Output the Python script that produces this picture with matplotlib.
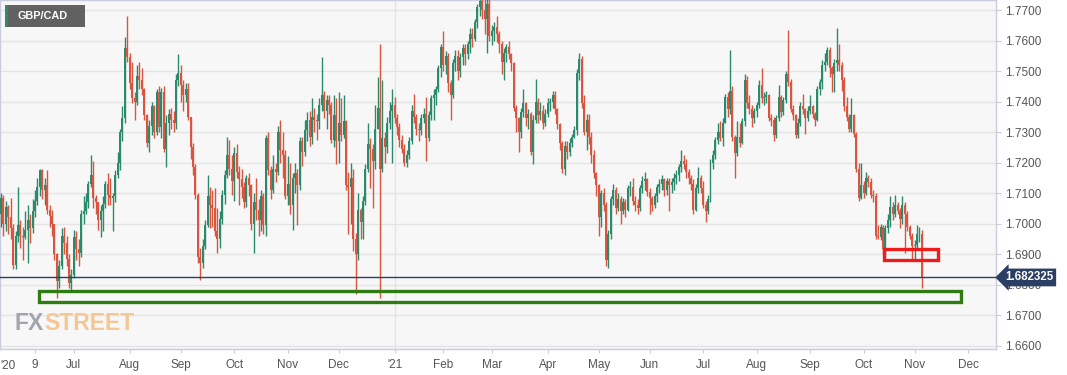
import numpy as np
import pandas as pd
import matplotlib
matplotlib.use("Agg")
import matplotlib.pyplot as plt
from matplotlib.patches import Rectangle
import matplotlib.transforms as mtransforms

# ---------------- data (daily GBP/CAD) ----------------
symbol = "GBP/CAD"
start_date = "2020-05-20"
skip_days = ["2021-01-01", "2021-04-02"]
first_open = 1.7030

closes = [
    1.7085, 1.7000, 1.7055, 1.7020, 1.6985, 1.6865, 1.6960, 1.6995, 1.6960, 1.6955,
    1.6980, 1.7010, 1.6985, 1.7040, 1.7075, 1.7120, 1.7175, 1.7110, 1.7125, 1.7045,
    1.7025, 1.7000, 1.6900, 1.6810, 1.6860, 1.6960, 1.6935, 1.6885, 1.6805, 1.6830,
    1.6955, 1.6915, 1.6905, 1.7030, 1.7040, 1.7070, 1.7130, 1.7160, 1.7085, 1.7070,
    1.7010, 1.7040, 1.7065, 1.7130, 1.7095, 1.7085, 1.7090, 1.7160, 1.7200, 1.7300,
    1.7345, 1.7575, 1.7545, 1.7460, 1.7410, 1.7400, 1.7485, 1.7470, 1.7440, 1.7355,
    1.7265, 1.7320, 1.7385, 1.7300, 1.7430, 1.7315, 1.7430, 1.7245, 1.7330, 1.7360,
    1.7340, 1.7330, 1.7470, 1.7495, 1.7455, 1.7420, 1.7440, 1.7350, 1.7250, 1.7185,
    1.7095, 1.6890, 1.6870, 1.6925, 1.6995, 1.7090, 1.7060, 1.7050, 1.6975, 1.6950,
    1.7015, 1.7095, 1.7160, 1.7225, 1.7180, 1.7140, 1.7230, 1.7170, 1.7145, 1.7120,
    1.7070, 1.7150, 1.7125, 1.7000, 1.7070, 1.7045, 1.7010, 1.7090, 1.6995, 1.7280,
    1.7175, 1.7110, 1.7180, 1.7170, 1.7300, 1.7240, 1.7225, 1.7090, 1.7130, 1.7060,
    1.7150, 1.7165, 1.7125, 1.7270, 1.7235, 1.7305, 1.7340, 1.7285, 1.7350, 1.7340,
    1.7335, 1.7390, 1.7420, 1.7370, 1.7405, 1.7390, 1.7275, 1.7355, 1.7270, 1.7330,
    1.7290, 1.7335, 1.7125, 1.7120, 1.7150, 1.6950, 1.6900, 1.7045, 1.7005, 1.7075,
    1.7180, 1.7260, 1.7245, 1.7205, 1.7310, 1.7380, 1.7180, 1.7280, 1.7250, 1.7330,
    1.7370, 1.7390, 1.7345, 1.7315, 1.7275, 1.7245, 1.7200, 1.7225, 1.7270, 1.7370,
    1.7350, 1.7310, 1.7305, 1.7345, 1.7360, 1.7280, 1.7355, 1.7410, 1.7420, 1.7440,
    1.7510, 1.7580, 1.7520, 1.7550, 1.7460, 1.7420, 1.7525, 1.7550, 1.7500, 1.7545,
    1.7575, 1.7555, 1.7590, 1.7620, 1.7605, 1.7660, 1.7710, 1.7730, 1.7700, 1.7670,
    1.7720, 1.7615, 1.7630, 1.7645, 1.7620, 1.7590, 1.7530, 1.7560, 1.7580, 1.7555,
    1.7525, 1.7380, 1.7345, 1.7300, 1.7365, 1.7395, 1.7345, 1.7360, 1.7235, 1.7340,
    1.7400, 1.7355, 1.7370, 1.7330, 1.7360, 1.7395, 1.7400, 1.7420, 1.7375, 1.7325,
    1.7265, 1.7180, 1.7255, 1.7235, 1.7265, 1.7285, 1.7305, 1.7495, 1.7540, 1.7395,
    1.7300, 1.7340, 1.7285, 1.7225, 1.7165, 1.7125, 1.7020, 1.7100, 1.7060, 1.6880,
    1.6965, 1.7080, 1.7110, 1.7050, 1.7080, 1.7040, 1.7070, 1.7045, 1.7115, 1.7120,
    1.7075, 1.7060, 1.7050, 1.7115, 1.7140, 1.7145, 1.7105, 1.7085, 1.7060, 1.7090,
    1.7120, 1.7130, 1.7145, 1.7110, 1.7140, 1.7125, 1.7135, 1.7150, 1.7160, 1.7185,
    1.7205, 1.7195, 1.7170, 1.7150, 1.7130, 1.7045, 1.7115, 1.7150, 1.7115, 1.7060,
    1.7040, 1.7080, 1.7200, 1.7225, 1.7275, 1.7300, 1.7280, 1.7330, 1.7415, 1.7375,
    1.7435, 1.7285, 1.7230, 1.7285, 1.7265, 1.7335, 1.7470, 1.7395, 1.7375, 1.7345,
    1.7370, 1.7390, 1.7455, 1.7410, 1.7415, 1.7420, 1.7345, 1.7340, 1.7290, 1.7345,
    1.7415, 1.7365, 1.7405, 1.7490, 1.7465, 1.7375, 1.7355, 1.7290, 1.7330, 1.7385,
    1.7375, 1.7345, 1.7370, 1.7385, 1.7360, 1.7340, 1.7440, 1.7465, 1.7520, 1.7530,
    1.7570, 1.7510, 1.7490, 1.7525, 1.7535, 1.7520, 1.7470, 1.7385, 1.7350, 1.7310,
    1.7355, 1.7295, 1.7180, 1.7085, 1.7125, 1.7100, 1.7150, 1.7135, 1.7095, 1.7090,
    1.6960, 1.6955, 1.6990, 1.6915, 1.6985, 1.7010, 1.7055, 1.7030, 1.7060, 1.7040,
    1.7015, 1.7060, 1.7030, 1.6990, 1.6960, 1.6925, 1.6930, 1.6965, 1.6965, 1.682325,
]

highs = [
    1.7100, 1.7095, 1.7075, 1.7060, 1.7085, 1.7000, 1.6975, 1.7120, 1.7010, 1.6990,
    1.7040, 1.7060, 1.7030, 1.7080, 1.7110, 1.7150, 1.7180, 1.7180, 1.7150, 1.7175,
    1.7060, 1.7045, 1.7000, 1.6905, 1.6880, 1.6985, 1.6990, 1.6960, 1.6900, 1.6850,
    1.6980, 1.6975, 1.6950, 1.7045, 1.7090, 1.7100, 1.7140, 1.7225, 1.7205, 1.7095,
    1.7070, 1.7060, 1.7090, 1.7140, 1.7165, 1.7150, 1.7100, 1.7175, 1.7235, 1.7310,
    1.7385, 1.7610, 1.7680, 1.7560, 1.7530, 1.7430, 1.7520, 1.7530, 1.7510, 1.7445,
    1.7360, 1.7340, 1.7400, 1.7390, 1.7440, 1.7450, 1.7445, 1.7450, 1.7355, 1.7375,
    1.7380, 1.7370, 1.7490, 1.7555, 1.7520, 1.7470, 1.7460, 1.7460, 1.7350, 1.7265,
    1.7195, 1.7100, 1.6920, 1.6950, 1.7010, 1.7160, 1.7120, 1.7110, 1.7115, 1.7050,
    1.7040, 1.7110, 1.7175, 1.7285, 1.7275, 1.7225, 1.7250, 1.7260, 1.7190, 1.7180,
    1.7135, 1.7160, 1.7165, 1.7130, 1.7100, 1.7150, 1.7080, 1.7110, 1.7100, 1.7290,
    1.7300, 1.7190, 1.7225, 1.7200, 1.7320, 1.7340, 1.7300, 1.7240, 1.7220, 1.7200,
    1.7165, 1.7200, 1.7180, 1.7285, 1.7285, 1.7340, 1.7365, 1.7370, 1.7410, 1.7380,
    1.7360, 1.7410, 1.7545, 1.7435, 1.7420, 1.7420, 1.7400, 1.7420, 1.7410, 1.7430,
    1.7410, 1.7420, 1.7340, 1.7170, 1.7200, 1.7180, 1.6970, 1.7100, 1.7050, 1.7090,
    1.7195, 1.7330, 1.7280, 1.7260, 1.7390, 1.7480, 1.7590, 1.7470, 1.7300, 1.7350,
    1.7400, 1.7440, 1.7415, 1.7360, 1.7330, 1.7290, 1.7260, 1.7240, 1.7285, 1.7390,
    1.7425, 1.7360, 1.7330, 1.7360, 1.7380, 1.7415, 1.7370, 1.7420, 1.7440, 1.7450,
    1.7520, 1.7590, 1.7630, 1.7565, 1.7560, 1.7470, 1.7540, 1.7570, 1.7570, 1.7560,
    1.7590, 1.7590, 1.7600, 1.7640, 1.7640, 1.7670, 1.7720, 1.7760, 1.7750, 1.7740,
    1.7745, 1.7745, 1.7650, 1.7660, 1.7680, 1.7630, 1.7600, 1.7575, 1.7590, 1.7600,
    1.7560, 1.7530, 1.7390, 1.7350, 1.7380, 1.7440, 1.7400, 1.7375, 1.7365, 1.7355,
    1.7475, 1.7410, 1.7400, 1.7390, 1.7375, 1.7410, 1.7410, 1.7435, 1.7435, 1.7380,
    1.7330, 1.7270, 1.7270, 1.7270, 1.7280, 1.7295, 1.7320, 1.7505, 1.7560, 1.7550,
    1.7420, 1.7360, 1.7360, 1.7300, 1.7240, 1.7170, 1.7130, 1.7110, 1.7115, 1.7070,
    1.6980, 1.7090, 1.7130, 1.7120, 1.7100, 1.7090, 1.7085, 1.7080, 1.7125, 1.7140,
    1.7150, 1.7090, 1.7080, 1.7125, 1.7155, 1.7170, 1.7150, 1.7115, 1.7090, 1.7100,
    1.7130, 1.7145, 1.7160, 1.7150, 1.7150, 1.7150, 1.7150, 1.7165, 1.7175, 1.7195,
    1.7240, 1.7225, 1.7210, 1.7180, 1.7160, 1.7145, 1.7130, 1.7185, 1.7160, 1.7140,
    1.7075, 1.7095, 1.7210, 1.7240, 1.7285, 1.7330, 1.7335, 1.7345, 1.7425, 1.7430,
    1.7570, 1.7450, 1.7290, 1.7335, 1.7330, 1.7345, 1.7490, 1.7485, 1.7420, 1.7390,
    1.7380, 1.7400, 1.7470, 1.7510, 1.7430, 1.7435, 1.7425, 1.7360, 1.7350, 1.7355,
    1.7455, 1.7420, 1.7415, 1.7500, 1.7635, 1.7475, 1.7390, 1.7360, 1.7345, 1.7400,
    1.7425, 1.7380, 1.7385, 1.7420, 1.7390, 1.7365, 1.7450, 1.7475, 1.7535, 1.7560,
    1.7580, 1.7580, 1.7515, 1.7540, 1.7640, 1.7590, 1.7530, 1.7480, 1.7415, 1.7360,
    1.7410, 1.7360, 1.7300, 1.7200, 1.7200, 1.7140, 1.7170, 1.7160, 1.7150, 1.7110,
    1.7100, 1.6995, 1.7000, 1.6995, 1.6995, 1.7030, 1.7090, 1.7070, 1.7095, 1.7070,
    1.7050, 1.7090, 1.7070, 1.7040, 1.6995, 1.6970, 1.6945, 1.6995, 1.6990, 1.6980,
]

lows = [
    1.6990, 1.6960, 1.6975, 1.6965, 1.6950, 1.6850, 1.6850, 1.6940, 1.6920, 1.6880,
    1.6950, 1.6870, 1.6935, 1.6970, 1.7020, 1.7060, 1.7090, 1.7080, 1.7060, 1.7030,
    1.6990, 1.6960, 1.6880, 1.6755, 1.6790, 1.6850, 1.6900, 1.6860, 1.6790, 1.6775,
    1.6820, 1.6880, 1.6860, 1.6890, 1.7000, 1.7030, 1.7050, 1.7120, 1.7050, 1.7030,
    1.6980, 1.6955, 1.6975, 1.7050, 1.7060, 1.7060, 1.6975, 1.7070, 1.7150, 1.7175,
    1.7270, 1.7330, 1.7530, 1.7440, 1.7395, 1.7340, 1.7390, 1.7440, 1.7420, 1.7340,
    1.7250, 1.7235, 1.7290, 1.7280, 1.7290, 1.7300, 1.7280, 1.7235, 1.7185, 1.7290,
    1.7310, 1.7300, 1.7310, 1.7450, 1.7400, 1.7370, 1.7400, 1.7340, 1.7210, 1.7160,
    1.7080, 1.6870, 1.6815, 1.6855, 1.6915, 1.6990, 1.6985, 1.6990, 1.6960, 1.6905,
    1.6920, 1.7000, 1.7065, 1.7150, 1.7160, 1.7095, 1.7075, 1.7150, 1.7060, 1.7085,
    1.7050, 1.7055, 1.7090, 1.6980, 1.6905, 1.7010, 1.6960, 1.6975, 1.6965, 1.6960,
    1.7160, 1.7080, 1.7100, 1.7135, 1.7160, 1.7200, 1.7150, 1.7080, 1.7060, 1.7030,
    1.6980, 1.7100, 1.6995, 1.7110, 1.7190, 1.7220, 1.7270, 1.7255, 1.7260, 1.7300,
    1.7275, 1.7310, 1.7370, 1.7345, 1.7310, 1.7360, 1.7265, 1.7250, 1.7195, 1.7200,
    1.7270, 1.7280, 1.7110, 1.6965, 1.7000, 1.6910, 1.6770, 1.6880, 1.6950, 1.6950,
    1.7060, 1.7170, 1.7115, 1.7050, 1.7180, 1.7340, 1.6755, 1.7170, 1.7200, 1.7230,
    1.7310, 1.7200, 1.7330, 1.7290, 1.7250, 1.7230, 1.7190, 1.7185, 1.7210, 1.7260,
    1.7330, 1.7290, 1.7270, 1.7290, 1.7330, 1.7205, 1.7270, 1.7340, 1.7340, 1.7390,
    1.7430, 1.7480, 1.7500, 1.7490, 1.7430, 1.7340, 1.7410, 1.7500, 1.7470, 1.7480,
    1.7520, 1.7520, 1.7540, 1.7560, 1.7580, 1.7600, 1.7640, 1.7680, 1.7670, 1.7620,
    1.7560, 1.7600, 1.7585, 1.7600, 1.7595, 1.7560, 1.7490, 1.7470, 1.7530, 1.7540,
    1.7500, 1.7370, 1.7300, 1.7235, 1.7280, 1.7350, 1.7320, 1.7310, 1.7225, 1.7195,
    1.7330, 1.7330, 1.7340, 1.7310, 1.7320, 1.7350, 1.7370, 1.7380, 1.7360, 1.7310,
    1.7240, 1.7165, 1.7160, 1.7210, 1.7220, 1.7250, 1.7280, 1.7290, 1.7470, 1.7380,
    1.7290, 1.7240, 1.7260, 1.7200, 1.7150, 1.7090, 1.6960, 1.6990, 1.7040, 1.6862,
    1.6855, 1.6950, 1.7060, 1.7030, 1.7040, 1.7000, 1.7030, 1.7020, 1.7040, 1.7090,
    1.7060, 1.7040, 1.7030, 1.7040, 1.7100, 1.7110, 1.7090, 1.7030, 1.7040, 1.7050,
    1.7070, 1.7100, 1.7110, 1.7090, 1.7095, 1.7040, 1.7100, 1.7110, 1.7130, 1.7140,
    1.7170, 1.7180, 1.7150, 1.7130, 1.7110, 1.7030, 1.7040, 1.7100, 1.7100, 1.7050,
    1.7005, 1.7030, 1.7070, 1.7180, 1.7210, 1.7260, 1.7270, 1.7255, 1.7330, 1.7350,
    1.7360, 1.7270, 1.7150, 1.7220, 1.7250, 1.7260, 1.7320, 1.7380, 1.7360, 1.7315,
    1.7330, 1.7350, 1.7380, 1.7395, 1.7390, 1.7395, 1.7335, 1.7320, 1.7270, 1.7280,
    1.7335, 1.7350, 1.7355, 1.7395, 1.7450, 1.7365, 1.7340, 1.7280, 1.7280, 1.7320,
    1.7360, 1.7295, 1.7335, 1.7360, 1.7345, 1.7320, 1.7335, 1.7420, 1.7440, 1.7500,
    1.7520, 1.7480, 1.7430, 1.7430, 1.7500, 1.7500, 1.7435, 1.7370, 1.7335, 1.7300,
    1.7300, 1.7285, 1.7170, 1.7075, 1.7080, 1.7085, 1.7095, 1.7120, 1.7085, 1.7070,
    1.6950, 1.6950, 1.6945, 1.6900, 1.6890, 1.6970, 1.6990, 1.7010, 1.7020, 1.7030,
    1.6985, 1.7000, 1.6905, 1.6975, 1.6950, 1.6885, 1.6885, 1.6920, 1.6940, 1.6790,
]

# annotation zones (price ranges and dates)
support_zone = (1.6744, 1.6780)
support_dates = ("2020-06-10", "2021-11-26")
recent_zone = (1.6881, 1.6915)
recent_dates = ("2021-10-13", "2021-11-15")

price_ticks = [1.66, 1.67, 1.68, 1.69, 1.70, 1.71, 1.72, 1.73, 1.74, 1.75, 1.76, 1.77]

# ---------------- styling ----------------
GREEN = "#2b8a6c"
RED = "#d9553f"
GRID = "#e4e4e4"
AXC = "#c9cddd"
NAVY = "#2b3e64"
FONT = ["Liberation Sans", "DejaVu Sans"]
plt.rcParams["font.family"] = FONT

W, H = 1067, 375
fig = plt.figure(figsize=(W / 100, H / 100), dpi=100)
fig.patch.set_facecolor("white")
ax = fig.add_axes([0.0, 26 / H, 996 / W, 349 / H])
ax.set_facecolor("#f7f7f7")

# trading-day calendar
all_days = pd.bdate_range(start_date, "2021-12-31")
all_days = all_days[~all_days.isin(pd.to_datetime(skip_days))]
day_pos = {d: k for k, d in enumerate(all_days)}

c = np.array(closes)
o = np.concatenate([[first_open], c[:-1]])
h = np.maximum(np.array(highs), np.maximum(o, c))
l = np.minimum(np.array(lows), np.minimum(o, c))
x = np.arange(len(c))
up = c >= o
cols = np.where(up, GREEN, RED)

ax.vlines(x, l, h, colors=cols, lw=1.0, zorder=3)
body_bottom = np.minimum(o, c)
body_h = np.maximum(np.abs(c - o), 0.00015)
ax.bar(x, body_h, bottom=body_bottom, width=0.82, color=cols, linewidth=0, zorder=4)

xmin, xmax = -0.41, 409.5
ymin, ymax = 1.65887, 1.77328
ax.set_xlim(xmin, xmax)
ax.set_ylim(ymin, ymax)

# grid
for p in price_ticks:
    ax.axhline(p, color=GRID, lw=1.0, zorder=1)

# month ticks
tick_pos, tick_lab = [], []
prev = None
for k, d in enumerate(all_days):
    key = (d.year, d.month)
    if key != prev:
        prev = key
        if k == 0 or (d.year == 2020 and d.month == 6):
            continue
        if k > xmax:
            continue
        tick_pos.append(k)
        tick_lab.append("'21" if (d.month == 1) else d.strftime("%b"))
jun9 = day_pos[pd.Timestamp("2020-06-09")]
tick_pos = [jun9] + tick_pos
tick_lab = ["9"] + tick_lab
ax.set_xticks(tick_pos)
ax.set_xticklabels(tick_lab)
jan_pos = day_pos[[d for d in all_days if d.year == 2021][0]]
ax.axvline(jan_pos, color=GRID, lw=1.0, zorder=1)

ax.annotate("'20", xy=(0, 0), xycoords="axes fraction", xytext=(0, -7.8),
            textcoords="offset points", ha="left", va="top", fontsize=8.5, color="#555555")

ax.yaxis.tick_right()
ax.set_yticks(price_ticks)
ax.set_yticklabels([f"{p:.4f}" for p in price_ticks])
ax.tick_params(axis="y", length=3.5, width=0.8, color=AXC, labelcolor="#555555",
               labelsize=8.5, pad=3)
ax.tick_params(axis="x", length=3, width=0.8, color=AXC, labelcolor="#555555",
               labelsize=8.5, pad=4.5)
for s in ax.spines.values():
    s.set_color(AXC)
    s.set_linewidth(1.0)

# zones
s0 = day_pos[pd.Timestamp(support_dates[0])] + 0.6
s1 = day_pos[pd.Timestamp(support_dates[1])]
ax.add_patch(Rectangle((s0, support_zone[0]), s1 - s0, support_zone[1] - support_zone[0],
                       fill=False, ec="#2f7d12", lw=2.4, zorder=6))
r0 = day_pos[pd.Timestamp(recent_dates[0])] + 0.2
r1 = day_pos[pd.Timestamp(recent_dates[1])] - 0.2
ax.add_patch(Rectangle((r0, recent_zone[0]), r1 - r0, recent_zone[1] - recent_zone[0],
                       fill=False, ec="#ee1b1b", lw=2.4, zorder=6))

# last price line and label
last = closes[-1]
ax.axhline(last, color=NAVY, lw=1.0, zorder=5)
trans = mtransforms.blended_transform_factory(ax.transAxes, ax.transData)
ax.text(1.0 + 9 / 996, last, f"{last:.6f}", transform=trans, ha="left", va="center",
        color="white", fontsize=8.3, fontweight="bold", clip_on=False, zorder=10,
        bbox=dict(boxstyle="larrow,pad=0.25", fc=NAVY, ec="none"))

# symbol badge
fig.patches.append(Rectangle((5 / W, 1 - 27 / H), 80 / W, 22 / H, transform=fig.transFigure,
                             fc="#616161", ec="none", zorder=10))
fig.patches.append(Rectangle((5 / W, 1 - 27 / H), 3 / W, 22 / H, transform=fig.transFigure,
                             fc="#2e8a6f", ec="none", zorder=11))
fig.text(17 / W, 1 - 16 / H, symbol, color="white", fontsize=7.8, fontweight="bold",
         ha="left", va="center", zorder=12)

# watermark
wm_font = ["Liberation Sans Narrow", "Liberation Sans", "DejaVu Sans"]
fx = fig.text(15 / W, 1 - 330 / H, "FX", color="#a4a4ac", fontsize=16.5, fontweight="bold",
              family=wm_font, ha="left", va="baseline", zorder=2)
ax.annotate("STREET", xy=(1, 0), xycoords=fx, xytext=(0, 0), textcoords="offset points",
            color="#f4c795", fontsize=16.5, fontweight="bold", family=wm_font,
            ha="left", va="bottom", annotation_clip=False, zorder=2)

fig.savefig("out.png", dpi=100)
